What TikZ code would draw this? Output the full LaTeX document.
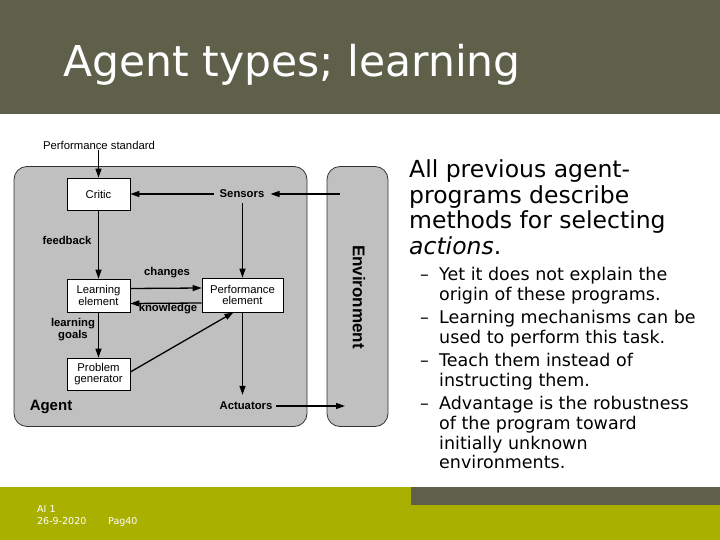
\documentclass[tikz,border=0pt]{standalone}
\usepackage{fontspec}
\setmainfont{DejaVu Sans}
\newfontfamily\diag{Liberation Sans}
\usetikzlibrary{arrows.meta,calc}
\definecolor{barcol}{RGB}{95,96,74}
\definecolor{footgreen}{RGB}{170,176,0}
\definecolor{diaggray}{RGB}{192,192,192}
\tikzset{
  panel/.style={draw=black!80, line width=0.8pt, fill=diaggray, rounded corners=13pt},
  wbox/.style={draw=black, line width=0.7pt, fill=white, align=center, font=\diag\fontsize{11.3}{11.5}\selectfont, inner sep=1pt},
  lbl/.style={font=\diag\bfseries\fontsize{11.3}{12}\selectfont, align=center, inner sep=1pt},
  plain/.style={font=\diag\fontsize{11.3}{12}\selectfont, inner sep=1pt},
  arr/.style={-{Triangle[length=9pt,width=6pt]}, line width=1.3pt},
  big/.style={font=\fontsize{23.5}{25.4}\selectfont, anchor=base west, inner sep=0pt},
  sub/.style={font=\fontsize{17.5}{20}\selectfont, anchor=base west, inner sep=0pt},
  foot/.style={font=\fontsize{9.5}{11}\selectfont, text=white, anchor=base west, inner sep=0pt}
}
\begin{document}
\begin{tikzpicture}[x=1pt,y=-1pt]
\useasboundingbox (0,0) rectangle (720,540);
\fill[white] (0,0) rectangle (720,540);
% title bar
\fill[barcol] (0,0) rectangle (720,114);
\node[font=\fontsize{42.5}{44}\selectfont, text=white, anchor=base west, inner sep=0pt] (title) at (63,77) {Agent types; learning};
% footer
\fill[footgreen] (0,487) rectangle (720,540);
\fill[barcol] (411,487) rectangle (720,505);
\node[foot] (f1) at (37,512) {AI 1};
\node[foot] (f2) at (37,524) {26-9-2020};
\node[foot] (f3) at (108,524) {Pag40};

% diagram panels
\node[panel, minimum width=293pt, minimum height=260pt, inner sep=0pt] (agentbox) at (160.5,296.5) {};
\node[panel, minimum width=61pt, minimum height=260pt, inner sep=0pt] (envbox) at (357.5,296.5) {};
\node[font=\diag\bfseries\fontsize{17}{18}\selectfont, rotate=-90, inner sep=0pt] (envlbl) at (359,297) {Environment};
\node[font=\diag\bfseries\fontsize{15}{16}\selectfont, inner sep=0pt] (agentlbl) at (51,407) {Agent};

% boxes
\node[wbox, minimum width=63pt, minimum height=32pt] (critic) at (98.5,194) {Critic};
\node[wbox, minimum width=63pt, minimum height=33pt] (learn) at (98.5,295.5) {Learning\\element};
\node[wbox, minimum width=81pt, minimum height=34pt] (perf) at (242.5,295) {Performance\\element};
\node[wbox, minimum width=63pt, minimum height=32pt] (prob) at (98.5,374) {Problem\\generator};

% labels
\node[plain] (ps) at (99,145) {Performance standard};
\node[lbl, inner xsep=6pt, inner ysep=5pt] (sensors) at (242,194) {Sensors};
\node[lbl, inner xsep=3pt, inner ysep=7pt] (actuators) at (246,406) {Actuators};
\node[lbl] (feedback) at (67,240) {feedback};
\node[lbl] (changes) at (167,273) {changes};
\node[lbl] (knowledge) at (168,309) {knowledge};
\node[lbl] (goals) at (73,330) {learning\\goals};

\coordinate (envS) at (340,194);
\coordinate (envA) at (345,406);

% connectors
\draw[arr] (critic.north |- ps.south) -- (critic.north);
\draw[arr] (envS) -- (sensors.east);
\draw[arr] (sensors.west) -- (sensors.west -| critic.east);
\draw[arr] (critic.south) -- (learn.north);
\draw[arr] (learn.south) -- (prob.north);
\draw[arr] (sensors.south -| perf.north) -- (perf.north);
\draw[arr] ([yshift=7pt]learn.east) -- ([yshift=7pt]perf.west);
\draw[arr] ([yshift=-8pt]perf.west) -- ([yshift=-8pt]learn.east);
\draw[arr] ([yshift=2pt]prob.east) -- ([xshift=-9pt]perf.south);
\draw[arr] (perf.south) -- (actuators.north -| perf.south);
\draw[arr] (actuators.east) -- (envA);

% right text
\node[big] (t1) at (409,178) {All previous agent-};
\node[big] (t2) at (409,203.4) {programs describe};
\node[big] (t3) at (409,228.8) {methods for selecting};
\node[big] (t4) at (409,254.2) {\itshape actions\upshape .};

\node[sub] (d1) at (420,280) {–};
\node[sub] (s1a) at (439,280) {Yet it does not explain the};
\node[sub] (s1b) at (439,300) {origin of these programs.};
\node[sub] (d2) at (420,323) {–};
\node[sub] (s2a) at (439,323) {Learning mechanisms can be};
\node[sub] (s2b) at (439,343) {used to perform this task.};
\node[sub] (d3) at (420,366) {–};
\node[sub] (s3a) at (439,366) {Teach them instead of};
\node[sub] (s3b) at (439,386) {instructing them.};
\node[sub] (d4) at (420,409) {–};
\node[sub] (s4a) at (439,409) {Advantage is the robustness};
\node[sub] (s4b) at (439,429) {of the program toward};
\node[sub] (s4c) at (439,449) {initially unknown};
\node[sub] (s4d) at (439,468.5) {environments.};
\end{tikzpicture}
\end{document}
